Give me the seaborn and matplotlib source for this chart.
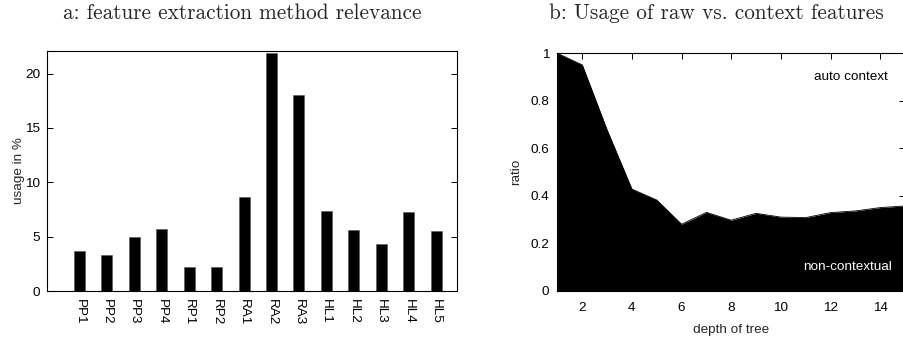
import matplotlib
matplotlib.use("Agg")
import matplotlib.pyplot as plt
import seaborn as sns
import pandas as pd
import numpy as np

# ---- data ----
methods = ["PP1", "PP2", "PP3", "PP4", "RP1", "RP2", "RA1", "RA2", "RA3",
           "HL1", "HL2", "HL3", "HL4", "HL5"]
usage = [3.68, 3.31, 4.96, 5.70, 2.17, 2.24, 8.67, 21.9, 18.0,
         7.38, 5.60, 4.32, 7.29, 5.55]

depth = [1, 2, 3, 4, 5, 6, 7, 8, 9, 10, 11, 12, 13, 14, 15]
ratio = [1.0, 0.951, 0.677, 0.428, 0.382, 0.280, 0.330, 0.297, 0.326,
         0.310, 0.308, 0.329, 0.336, 0.350, 0.357]

left_ticks = [0, 5, 10, 15, 20]
right_yticks = [0, 0.2, 0.4, 0.6, 0.8, 1.0]
right_yticklabels = ["0", "0.2", "0.4", "0.6", "0.8", "1"]
right_xticks = [2, 4, 6, 8, 10, 12, 14]

sns.set_theme(style="white")
plt.rcParams["font.family"] = ["Liberation Sans", "DejaVu Sans"]

FS = 9.7
W, H = 904, 337
fig = plt.figure(figsize=(W / 100, H / 100), dpi=100)

def frac(l, t, r, b):
    return [l / W, 1 - b / H, (r - l) / W, (b - t) / H]

# ---- left: bar chart ----
ax1 = fig.add_axes(frac(47.3, 50.7, 456.7, 291))
df1 = pd.DataFrame({"method": methods, "usage": usage})
sns.barplot(data=df1, x="method", y="usage", color="black", width=0.4,
            saturation=1, ax=ax1, edgecolor="#555555", linewidth=0.4)
ax1.set_xlim(-1.17, 13.75)
ax1.set_ylim(0, 22.1)
ax1.set_yticks(left_ticks)
ax1.set_yticklabels([str(t) for t in left_ticks], fontsize=FS)
ax1.set_xticks(range(len(methods)))
ax1.set_xticklabels(methods, rotation=-90, fontsize=FS, va="top")
ax1.tick_params(axis="y", direction="in", length=4.5, width=0.7,
                left=True, right=True, pad=5, colors="black")
ax1.tick_params(axis="x", length=0, pad=6, colors="black")
ax1.set_xlabel("")
ax1.set_ylabel("usage in %", fontsize=FS, labelpad=0.5)
for s in ax1.spines.values():
    s.set_linewidth(0.8)
    s.set_color("black")

# ---- right: area chart ----
ax2 = fig.add_axes(frac(557.5, 53.3, 905, 290.7))
df2 = pd.DataFrame({"depth": depth, "ratio": ratio})
sns.lineplot(data=df2, x="depth", y="ratio", color="black", linewidth=0.6, ax=ax2)
ax2.fill_between(df2["depth"], 0, df2["ratio"], color="black", linewidth=0)
ax2.set_xlim(1, 15)
ax2.set_ylim(0, 1)
ax2.set_yticks(right_yticks)
ax2.set_yticklabels(right_yticklabels, fontsize=FS)
ax2.set_xticks(right_xticks)
ax2.set_xticklabels([str(t) for t in right_xticks], fontsize=FS)
ax2.tick_params(direction="in", length=4, width=0.7, left=True, right=True,
                top=True, bottom=True, colors="black", pad=6)
ax2.tick_params(axis="x", pad=8)
ax2.set_xlabel("depth of tree", fontsize=FS, labelpad=7)
ax2.set_ylabel("ratio", fontsize=FS, labelpad=6)
for s in ax2.spines.values():
    s.set_linewidth(0.8)
    s.set_color("black")
ax2.text(14.32, 0.90, "auto context", ha="right", va="center", fontsize=FS, color="black")
ax2.text(14.48, 0.10, "non-contextual", ha="right", va="center", fontsize=FS, color="white")

# ---- titles ----
fig.text(242.5 / W, 1 - 13 / H, "a: feature extraction method relevance",
         ha="center", va="center", fontsize=15.3, family="cmr10")
fig.text(716 / W, 1 - 13 / H, "b: Usage of raw vs. context features",
         ha="center", va="center", fontsize=15.3, family="cmr10")

fig.savefig("out.png", dpi=100)
